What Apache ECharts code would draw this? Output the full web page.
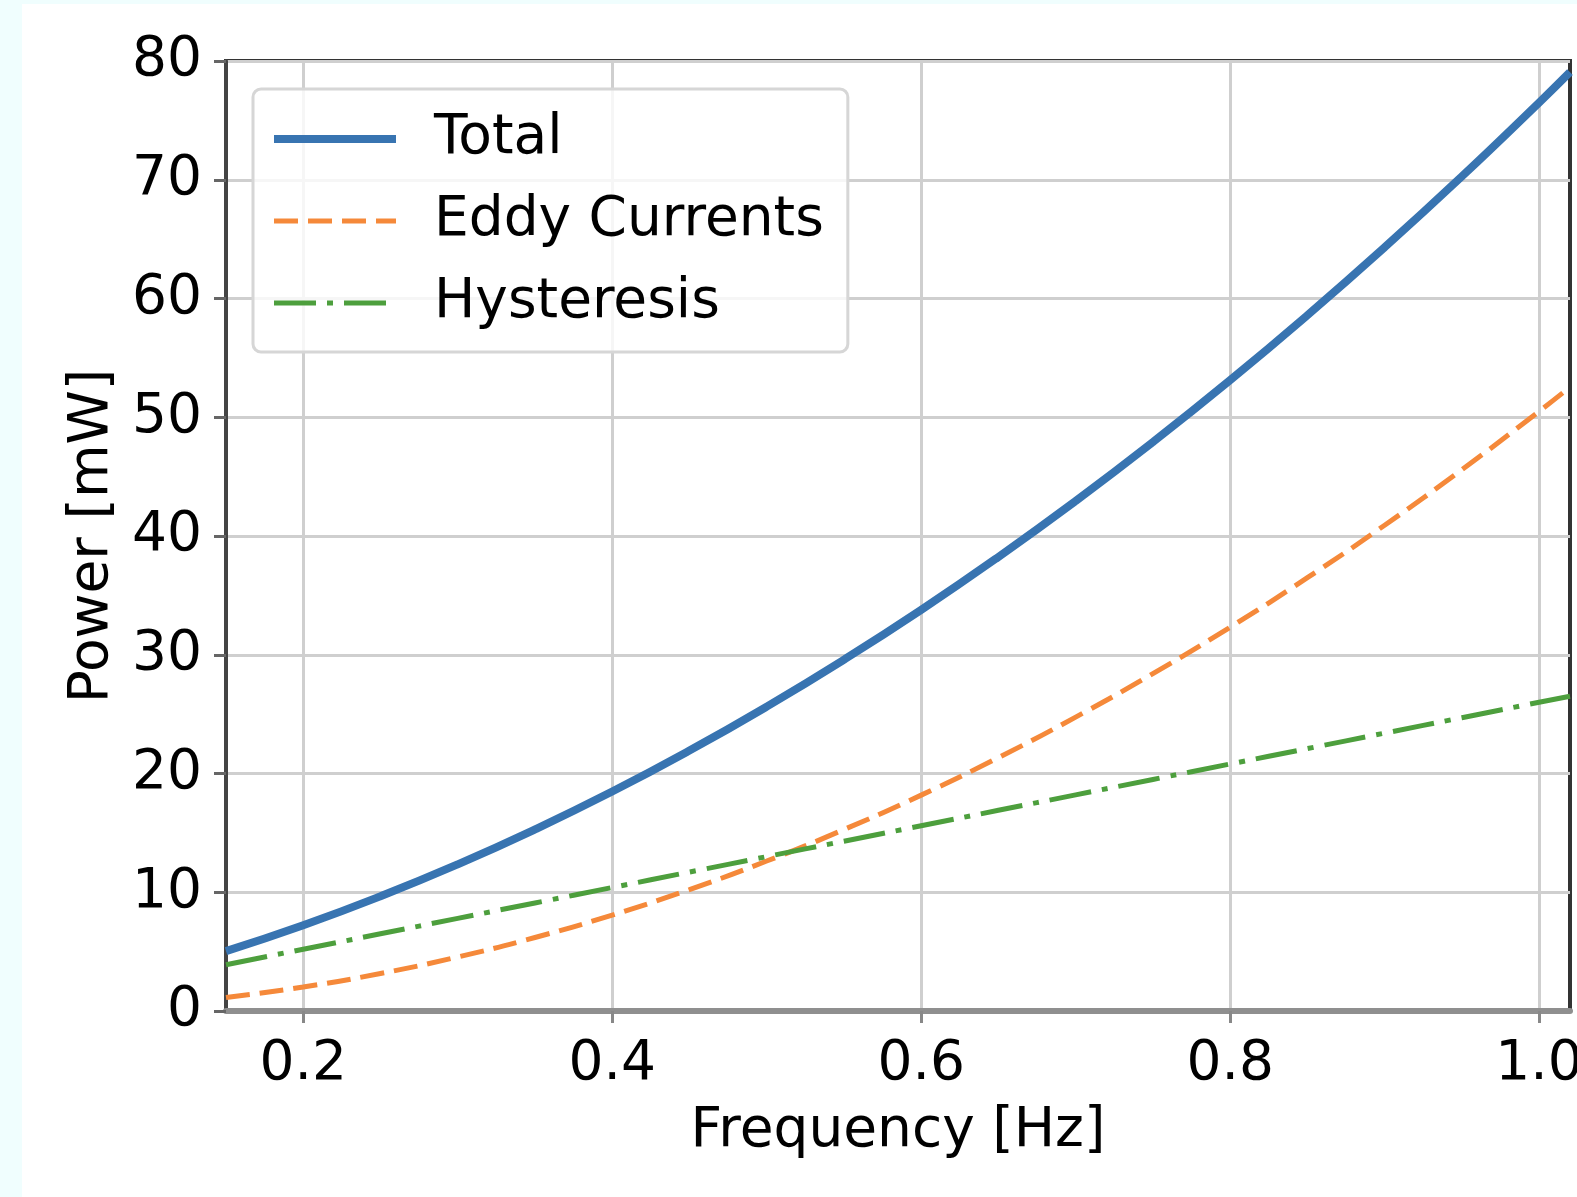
<!DOCTYPE html>
<html>
<head>
<meta charset="utf-8">
<script src="https://cdn.jsdelivr.net/npm/echarts@6/dist/echarts.min.js"></script>
<style>
    html, body { margin: 0; padding: 0; background: #f0fefe; }
    #chart { position: absolute; left: 22px; top: 4px; width: 1555px; height: 1193px; background: #fff; }
</style>
</head>
<body>
<div id="chart"></div>
<script>
var freq = [0.15, 0.20, 0.25, 0.30, 0.35, 0.40, 0.45, 0.50, 0.55, 0.60,
            0.65, 0.70, 0.75, 0.80, 0.85, 0.90, 0.95, 1.00, 1.02];
var total = [5.04, 7.22, 9.66, 12.35, 15.29, 18.48, 21.93, 25.63, 29.58, 33.78,
             38.24, 42.95, 47.91, 53.12, 58.59, 64.31, 70.28, 76.5, 79.06];
var eddy = [1.14, 2.02, 3.16, 4.55, 6.19, 8.08, 10.23, 12.63, 15.28, 18.18,
            21.34, 24.75, 28.41, 32.32, 36.49, 40.91, 45.58, 50.5, 52.54];
var hyst = [3.9, 5.2, 6.5, 7.8, 9.1, 10.4, 11.7, 13.0, 14.3, 15.6,
            16.9, 18.2, 19.5, 20.8, 22.1, 23.4, 24.7, 26.0, 26.5];
var xTicks = [0.2, 0.4, 0.6, 0.8, 1.0];

function pairs(ys) {
    return freq.map(function (f, i) { return [f, ys[i]]; });
}

var font = 'DejaVu Sans';
var colors = { total: '#3874b1', eddy: '#f5893a', hyst: '#4d9f3d' };
var myChart = echarts.init(document.getElementById('chart'));

var option = {
    backgroundColor: '#fff',
    animation: false,
    grid: {
        left: 204, top: 57, width: 1344, height: 950,
        outerBoundsMode: 'none', containLabel: false,
        show: true, borderColor: '#333', borderWidth: 4, backgroundColor: 'transparent'
    },
    legend: {
        orient: 'vertical',
        left: 231, top: 85,
        padding: [20, 24, 19, 17],
        itemWidth: 122, itemHeight: 20, itemGap: 22,
        backgroundColor: 'rgba(255,255,255,0.8)',
        borderColor: '#d6d6d6', borderWidth: 3, borderRadius: 8,
        itemStyle: { opacity: 0 },
        textStyle: { fontFamily: font, fontSize: 55, color: '#000', lineHeight: 60, padding: [0, 0, 0, 33] },
        data: [
            { name: 'Total', lineStyle: { width: 8 } },
            { name: 'Eddy Currents', lineStyle: { width: 5 } },
            { name: 'Hysteresis', lineStyle: { width: 5 } }
        ]
    },
    xAxis: {
        type: 'value', min: 0.15, max: 1.02,
        name: 'Frequency [Hz]', nameLocation: 'middle', nameGap: 93,
        nameTextStyle: { fontFamily: font, fontSize: 55, color: '#000' },
        axisLine: { lineStyle: { color: '#8f8f8f', width: 6 } },
        axisTick: { show: true, length: 12, customValues: xTicks, lineStyle: { color: '#888', width: 3 } },
        axisLabel: {
            customValues: xTicks, margin: 26,
            fontFamily: font, fontSize: 55, color: '#000',
            formatter: function (v) { return v.toFixed(1); }
        },
        splitLine: { show: true, lineStyle: { color: '#cfcfcf', width: 3 } }
    },
    yAxis: {
        type: 'value', min: 0, max: 80, interval: 10,
        name: 'Power [mW]', nameLocation: 'middle', nameGap: 106,
        nameTextStyle: { fontFamily: font, fontSize: 55, color: '#000' },
        axisLine: { show: true, lineStyle: { color: '#444', width: 4 } },
        axisTick: { show: true, length: 12, lineStyle: { color: '#666', width: 3 } },
        axisLabel: { margin: 24, fontFamily: font, fontSize: 55, color: '#000' },
        splitLine: { show: true, lineStyle: { color: '#cfcfcf', width: 3 } }
    },
    series: [
        {
            name: 'Total', type: 'line', smooth: true, symbol: 'none',
            lineStyle: { color: colors.total, width: 8 },
            itemStyle: { color: colors.total },
            data: pairs(total), z: 4
        },
        {
            name: 'Eddy Currents', type: 'line', smooth: true, symbol: 'none',
            lineStyle: { color: colors.eddy, width: 5, type: [24, 10] },
            itemStyle: { color: colors.eddy },
            data: pairs(eddy), z: 3
        },
        {
            name: 'Hysteresis', type: 'line', smooth: true, symbol: 'none',
            lineStyle: { color: colors.hyst, width: 5, type: [42, 11, 6, 11] },
            itemStyle: { color: colors.hyst },
            data: pairs(hyst), z: 3
        }
    ]
};
myChart.setOption(option);
</script>
</body>
</html>
